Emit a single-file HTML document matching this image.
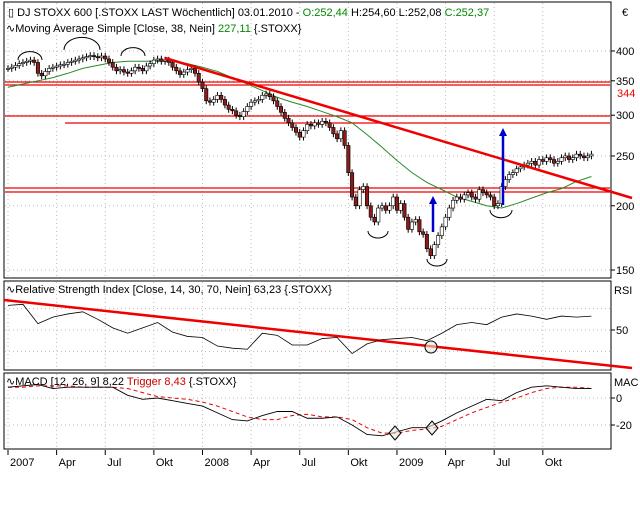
<!DOCTYPE html>
<html><head><meta charset="utf-8">
<style>
body{margin:0;background:#fff;width:640px;height:512px;overflow:hidden;font-family:"Liberation Sans",sans-serif}
svg text{font-family:"Liberation Sans",sans-serif;font-size:11px}
</style></head>
<body>
<svg id="c" width="640" height="512"></svg>
<script>
const closes=[370,372,375,378,380,382,384,380,362,358,365,370,372,
374,376,377,380,382,384,386,388,390,392,390,388,391,
386,380,372,366,368,364,362,366,372,370,366,374,378,
384,386,382,384,380,372,366,360,364,368,370,362,348,
338,320,318,322,328,322,314,308,306,300,298,305,312,
318,320,322,328,330,326,320,312,304,296,290,284,278,
272,280,288,286,290,288,292,290,284,276,270,280,262,
232,208,200,215,218,200,190,186,198,200,196,200,208,
196,202,190,180,186,188,178,176,165,160,168,175,182,
190,198,205,208,206,210,212,208,206,215,212,210,208,
200,202,218,225,230,232,236,238,240,242,244,240,246,
244,248,246,242,244,248,250,246,248,252,250,248,250,252];
const maValues=[340,345,350,355,362,370,375,380,382,382,382,382,378,372,365,355,345,335,325,318,312,305,298,290,275,260,245,232,222,215,208,204,200,198,202,207,212,216,223,228];
const rsiValues=[73,74,56,62,65,67,60,52,47,52,57,48,44,43,35,33,32,47,45,36,36,42,43,28,37,41,42,43,40,47,55,57,55,62,65,63,60,63,62,63];
const macdValues=[8,9,10,7,8,8,8,8,2,-1,0,-2,-4,-6,-11,-16,-17,-13,-10,-10,-15,-15,-14,-20,-27,-28,-25,-22,-22,-17,-11,-6,-1,-2,4,8,9,8,7,7];
const triggerValues=[8,8,9,9,9,8,8,8,7,4,1,0,-1,-3,-6,-10,-14,-16,-16,-13,-12,-14,-14,-16,-22,-26,-26,-24,-23,-21,-16,-11,-7,-3,0,4,7,8,8,7];
const priceTicks=[400,350,300,250,200,150];
const rsiTicks=[50];
const macdTicks=[0,-20];
const monthLabels=["2007","Apr","Jul","Okt","2008","Apr","Jul","Okt","2009","Apr","Jul","Okt"];
const monthWeeks=[0,13,26,39,52,65,78,91,104,117,130,143];

const svg=document.getElementById('c');
const NS='http://www.w3.org/2000/svg';
function mk(t,a,p){const e=document.createElementNS(NS,t);for(const k in a)e.setAttribute(k,a[k]);(p||svg).appendChild(e);return e;}
const X=i=>8+3.74*i;
const Yp=v=>51+(Math.log(400)-Math.log(v))*223.3;
const Yr=v=>330-(v-50)*1.07;
const Ym=v=>398-v*1.35;

const p1=mk('rect',{x:4,y:2,width:607,height:276,fill:'#fff',stroke:'#000'});

const p2=mk('rect',{x:4,y:281,width:607,height:89,fill:'#fff',stroke:'#000'});

const p3=mk('rect',{x:4,y:373,width:607,height:76,fill:'#fff',stroke:'#000'});


monthWeeks.forEach((w,k)=>{const x=X(w);
 [[3,277],[282,369],[374,448]].forEach(r=>mk('line',{x1:x,y1:r[0],x2:x,y2:r[1],stroke:'#bbb','stroke-dasharray':'1,3'}));
 mk('line',{x1:x,y1:450,x2:x,y2:455,stroke:'#000'});
 const t=mk('text',{x:x+2,y:466});t.textContent=monthLabels[k];
 
});
priceTicks.forEach(v=>{const y=Yp(v);mk('line',{x1:5,y1:y,x2:610,y2:y,stroke:'#bbb','stroke-dasharray':'1,3'});
 mk('line',{x1:611,y1:y,x2:615,y2:y,stroke:'#000'});
 const t=mk('text',{x:616,y:y+4});t.textContent=v;});
[70,50,30].forEach(v=>{const y=Yr(v);mk('line',{x1:5,y1:y,x2:610,y2:y,stroke:'#bbb','stroke-dasharray':'1,3'});});
rsiTicks.forEach(v=>{const y=Yr(v);mk('line',{x1:611,y1:y,x2:615,y2:y,stroke:'#000'});
 const t=mk('text',{x:616,y:y+4});t.textContent=v;});
macdTicks.forEach(v=>{const y=Ym(v);mk('line',{x1:5,y1:y,x2:610,y2:y,stroke:'#bbb','stroke-dasharray':'1,3'});
 mk('line',{x1:611,y1:y,x2:615,y2:y,stroke:'#000'});
 const t=mk('text',{x:616,y:y+4});t.textContent=v;});

[[5,82],[5,85],[5,116],[65,123],[5,188],[5,192]].forEach(h=>{const l=mk('line',{x1:h[0],y1:h[1],x2:610,y2:h[1],stroke:'#e00','stroke-width':1.2});
 });
const lbl=mk('text',{x:617,y:97,fill:'#e00','font-size':'10'});lbl.textContent='344';

let d='';maValues.forEach((v,k)=>{d+=(k?'L':'M')+X(k*4)+','+Yp(v);});
const ma=mk('path',{d:d,fill:'none',stroke:'#2a8a2a','stroke-width':1});


const cg=mk('g',{});
closes.forEach((c,i)=>{const o=i?closes[i-1]:c;const hi=Math.max(o,c)*1.015,lo=Math.min(o,c)*0.985;const x=X(i);
 mk('line',{x1:x,y1:Yp(hi),x2:x,y2:Yp(lo),stroke:'#000'},cg);
 const yt=Yp(Math.max(o,c)),yb=Yp(Math.min(o,c));
 const r=mk('rect',{x:x-1.7,y:yt,width:3.4,height:Math.max(1,yb-yt),fill:c<o?'#8b1a1a':'#fff',stroke:'#000','stroke-width':0.6},cg);
 
});

const tl=mk('line',{x1:165,y1:58,x2:632,y2:198,stroke:'#e00','stroke-width':2.5});

const tl2=mk('line',{x1:4,y1:300,x2:632,y2:368,stroke:'#e00','stroke-width':2.5});


[[433,232,196],[503,205,128]].forEach(a=>{mk('line',{x1:a[0],y1:a[1],x2:a[0],y2:a[2]+6,stroke:'#00c','stroke-width':2.5});
 const p=mk('polygon',{points:`${a[0]-4},${a[2]+8} ${a[0]+4},${a[2]+8} ${a[0]},${a[2]}`,fill:'#00c'});
 });
[[30,60,12,-1],[82,50,18,-1],[133,56,12,-1],[378,231,10,1],[437,259,10,1],[501,210,11,1]].forEach(a=>{
 mk('path',{d:`M${a[0]-a[2]},${a[1]} A${a[2]},${a[2]*0.7} 0 0 ${a[3]>0?0:1} ${a[0]+a[2]},${a[1]}`,fill:'none',stroke:'#000'});});

d='';rsiValues.forEach((v,k)=>{d+=(k?'L':'M')+X(k*4)+','+Yr(v);});
const rl=mk('path',{d:d,fill:'none',stroke:'#000','stroke-width':0.8});

mk('circle',{cx:431,cy:347,r:6,fill:'#e8e8d8','fill-opacity':0.6,stroke:'#000'});

d='';triggerValues.forEach((v,k)=>{d+=(k?'L':'M')+X(k*4)+','+Ym(v);});
const tr=mk('path',{d:d,fill:'none',stroke:'#e00','stroke-dasharray':'4,3'});

d='';macdValues.forEach((v,k)=>{d+=(k?'L':'M')+X(k*4)+','+Ym(v);});
const ml=mk('path',{d:d,fill:'none',stroke:'#000','stroke-width':0.9});

[[395,433],[432,428]].forEach(p=>mk('polygon',{points:`${p[0]-6},${p[1]} ${p[0]},${p[1]-7} ${p[0]+6},${p[1]} ${p[0]},${p[1]+7}`,fill:'#e8e8d8','fill-opacity':0.6,stroke:'#000'}));

function title(x,y,parts,name){const t=mk('text',{x:x,y:y});
 parts.forEach(p=>{const s=mk('tspan',{fill:p[1]},t);s.textContent=p[0];});}
title(8,16,[['▯ DJ STOXX 600 [.STOXX LAST Wöchentlich] 03.01.2010 - ','#000'],['O:252,44','#080'],[' H:254,60 L:252,08 ','#000'],['C:252,37','#080']],'price-title');
title(6,32,[['∿Moving Average Simple [Close, 38, Nein] ','#000'],['227,11','#080'],[' {.STOXX}','#000']],'ma-title');
title(6,293,[['∿Relative Strength Index [Close, 14, 30, 70, Nein] 63,23 {.STOXX}','#000']],'rsi-title');
title(6,385,[['∿MACD [12, 26, 9] 8,22 ','#000'],['Trigger 8,43','#c00'],[' {.STOXX}','#000']],'macd-title');
const e=mk('text',{x:622,y:16});e.textContent='€';
const r1=mk('text',{x:614,y:294});r1.textContent='RSI';
const r2=mk('text',{x:614,y:386});r2.textContent='MAC';
</script>
</body></html>
